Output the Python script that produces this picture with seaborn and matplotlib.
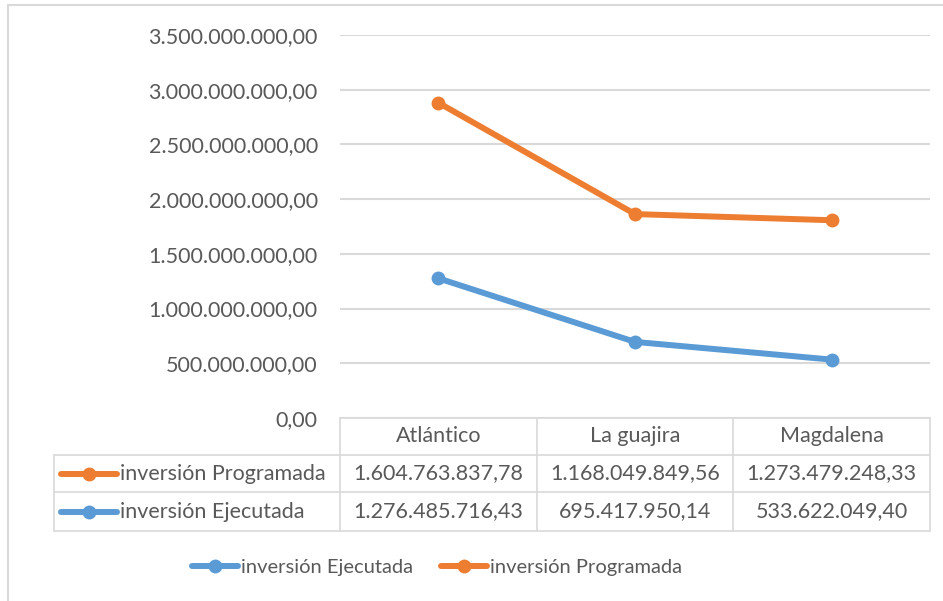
import matplotlib
matplotlib.use("Agg")
import matplotlib.pyplot as plt
from matplotlib.lines import Line2D
from matplotlib.patches import Rectangle
from matplotlib.ticker import FuncFormatter, MultipleLocator
import seaborn as sns
import pandas as pd

# ---- data ----
departamentos = ["Atlántico", "La guajira", "Magdalena"]
inv_programada = [1604763837.78, 1168049849.56, 1273479248.33]
inv_ejecutada = [1276485716.43, 695417950.14, 533622049.40]
serie_ejecutada = "inversión Ejecutada"
serie_programada = "inversión Programada"
y_ticks_max = 3500000000
y_tick_step = 500000000

# Excel stacked line: Programada drawn on top of Ejecutada
stacked_prog = [e + p for e, p in zip(inv_ejecutada, inv_programada)]
df = pd.DataFrame({
    "depto": departamentos * 2,
    "valor": inv_ejecutada + stacked_prog,
    "serie": [serie_ejecutada] * 3 + [serie_programada] * 3,
})

BLUE = "#5B9BD5"
ORANGE = "#ED7D31"
GRID = "#D9D9D9"
TXT = "#595959"
W, H = 943, 601

sns.set_theme(style="white")
plt.rcParams["font.family"] = ["Lato", "DejaVu Sans"]
FS = 15.5
FS_LEG = 14.5

def fx(x):
    return x / W

def fy(y):
    return 1 - y / H

def fmt(v, pos=None):
    s = f"{v:,.2f}"
    return s.replace(",", "X").replace(".", ",").replace("X", ".")

fig = plt.figure(figsize=(W / 100, H / 100), dpi=100)
fig.patch.set_facecolor("white")

# outer chart frame
fig.add_artist(Rectangle((fx(8), fy(700)), fx(1000), fy(5) - fy(700),
                         transform=fig.transFigure, fill=False,
                         edgecolor=GRID, linewidth=1.5))

ax = fig.add_axes([fx(340), fy(418), fx(930) - fx(340), fy(35) - fy(418)])
sns.lineplot(data=df, x="depto", y="valor", hue="serie",
             palette={serie_ejecutada: BLUE, serie_programada: ORANGE},
             marker="o", markersize=10, markeredgewidth=0,
             linewidth=4.3, sort=False, legend=False, ax=ax, zorder=3)
ax.set_xlim(-0.5, len(departamentos) - 0.5)
ax.set_ylim(0, y_ticks_max)
ax.yaxis.set_major_locator(MultipleLocator(y_tick_step))
ax.yaxis.set_major_formatter(FuncFormatter(fmt))
ax.set_xticks([])
ax.set_xlabel("")
ax.set_ylabel("")
ax.grid(axis="y", color=GRID, linewidth=1.5)
ax.tick_params(axis="y", length=0, pad=16, labelsize=FS, labelcolor=TXT)
for s in ax.spines.values():
    s.set_visible(False)

# ---- data table below the axes ----
fig.canvas.draw()
to_fig = ax.transData + fig.transFigure.inverted()

def col_x(xd):
    return to_fig.transform((xd, 0))[0]

bounds = [col_x(i - 0.5) for i in range(len(departamentos) + 1)]
centers = [col_x(i) for i in range(len(departamentos))]
row_y = [fy(418), fy(455), fy(492), fy(531)]
left = fx(54)

def fline(xs, ys, **kw):
    fig.add_artist(Line2D(xs, ys, transform=fig.transFigure, **kw))

fline([bounds[0], bounds[-1]], [row_y[0]] * 2, color=GRID, lw=1.2)
for yy in row_y[1:]:
    fline([left, bounds[-1]], [yy, yy], color=GRID, lw=1.2)
fline([left, left], [row_y[1], row_y[3]], color=GRID, lw=1.2)
for bx in bounds:
    fline([bx, bx], [row_y[0], row_y[3]], color=GRID, lw=1.2)

mid = [(row_y[i] + row_y[i + 1]) / 2 for i in range(3)]
for cx, name in zip(centers, departamentos):
    fig.text(cx, mid[0], name, ha="center", va="center", fontsize=FS, color=TXT)
for cx, v in zip(centers, inv_programada):
    fig.text(cx, mid[1], fmt(v), ha="center", va="center", fontsize=FS, color=TXT)
for cx, v in zip(centers, inv_ejecutada):
    fig.text(cx, mid[2], fmt(v), ha="center", va="center", fontsize=FS, color=TXT)

for yy, col, name in [(mid[1], ORANGE, serie_programada), (mid[2], BLUE, serie_ejecutada)]:
    fline([fx(61), fx(117)], [yy, yy], color=col, lw=4.3, solid_capstyle="round")
    fline([fx(89)], [yy], color=col, marker="o", markersize=10, markeredgewidth=0)
    fig.text(fx(120), yy, name, ha="left", va="center", fontsize=FS, color=TXT)

# ---- legend ----
handles = [
    Line2D([], [], color=BLUE, lw=4.3, marker="o", markersize=10, markeredgewidth=0,
           solid_capstyle="round"),
    Line2D([], [], color=ORANGE, lw=4.3, marker="o", markersize=10, markeredgewidth=0,
           solid_capstyle="round"),
]
fig.legend(handles, [serie_ejecutada, serie_programada], loc="center",
           bbox_to_anchor=(fx(437), fy(567)), ncol=2, frameon=False,
           fontsize=FS_LEG, labelcolor=TXT, handlelength=2.3, handletextpad=0.15,
           columnspacing=1.4)

fig.savefig("out.png", dpi=100, facecolor="white")
